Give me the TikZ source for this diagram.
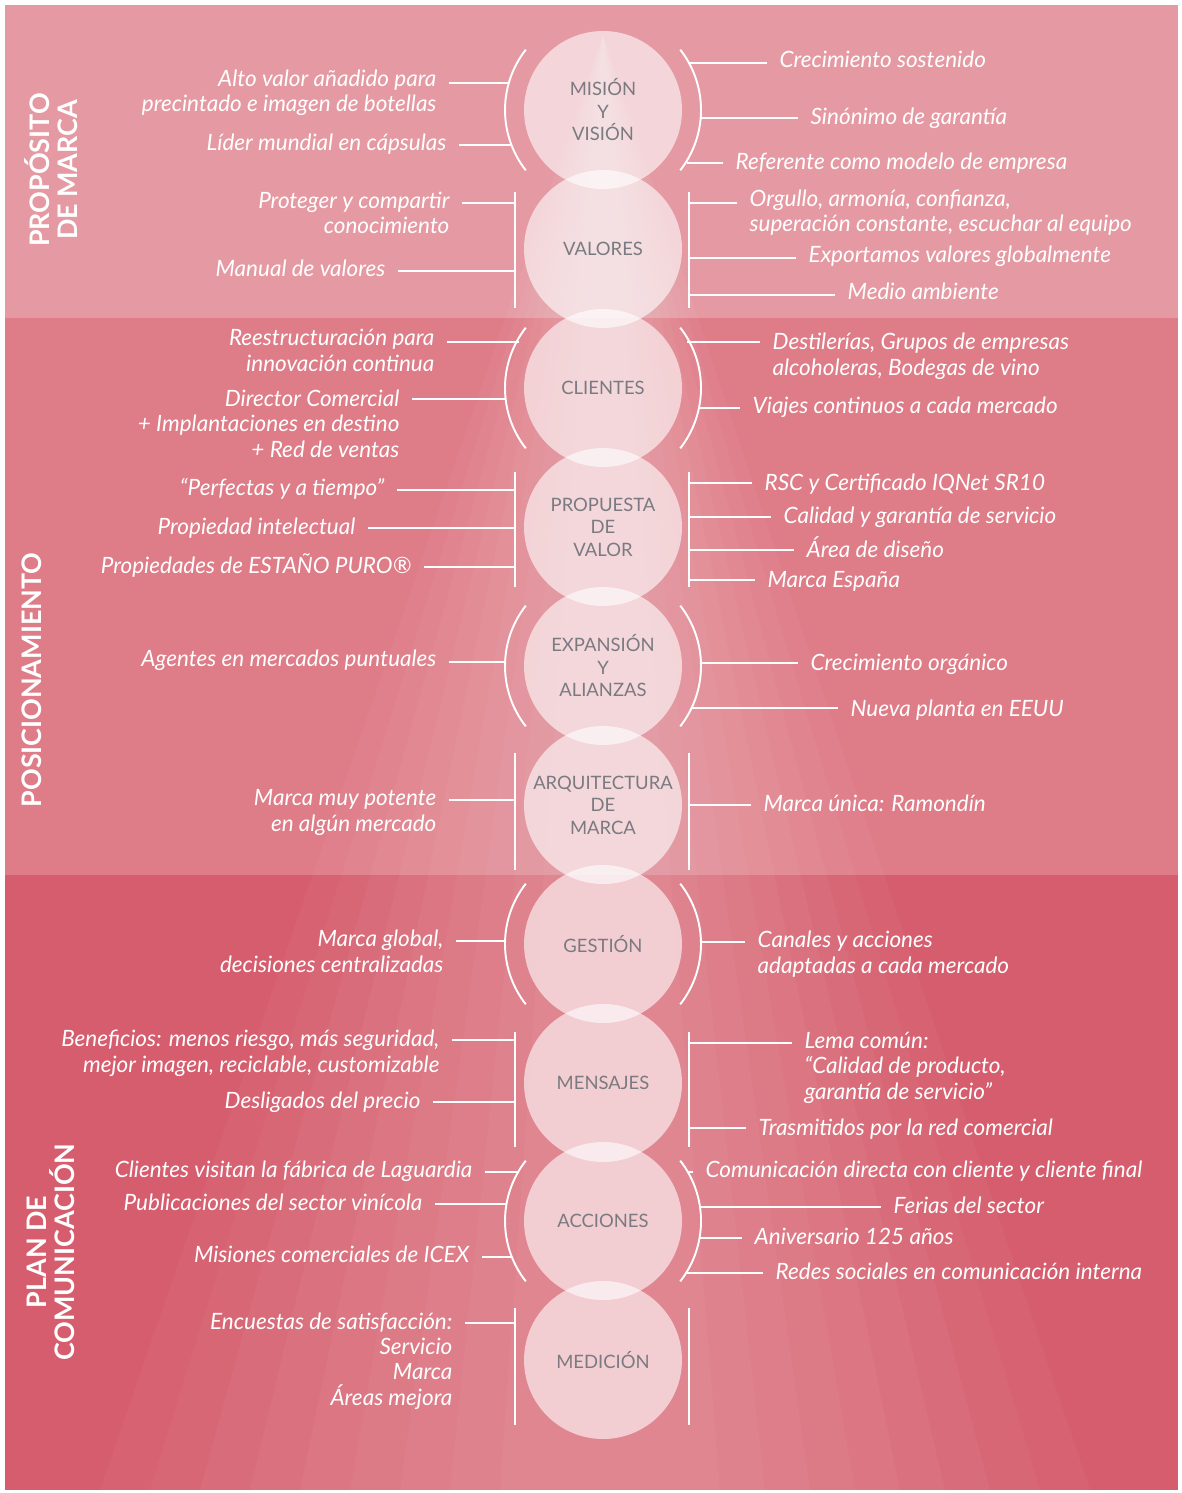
\documentclass[tikz,border=0pt]{standalone}
\usepackage{fontspec}
\setmainfont{Lato}
\usetikzlibrary{positioning,calc}
\definecolor{BandTop}{HTML}{E59AA3}
\definecolor{BandMid}{HTML}{DE7C88}
\definecolor{BandLow}{HTML}{D65D6D}
\definecolor{Slate}{HTML}{7A7A80}
\tikzset{
  cone/.style={fill=white,draw=none,opacity=.035},
  bubble/.style={circle,fill=white,fill opacity=.6,text opacity=1,draw=none,minimum size=3.16cm,inner sep=0pt,align=center,text=Slate,font=\fontsize{10.5}{12.8}\selectfont},
  tick/.style={draw=white,line width=1.1pt},
  lft/.style={anchor=base east,align=right,text=white,font=\fontsize{12.8}{14.3}\selectfont\itshape,inner xsep=7pt,inner ysep=0pt},
  rgt/.style={lft,anchor=base west,align=left},
  side/.style={rotate=90,align=center,text=white,font=\fontsize{15.3}{16.3}\selectfont\bfseries}
}
\begin{document}
\begin{tikzpicture}[x=0.02cm,y=-0.02cm]
  \useasboundingbox (0,0) rectangle (1181,1493);
  \fill[white] (0,0) rectangle (1181,1493);
  % bands
  \fill[BandTop] (5,5) rectangle (1178,318);
  \fill[BandMid] (5,318) rectangle (1178,875);
  \fill[BandLow] (5,875) rectangle (1178,1490);
  % light cone
  \fill[cone] (603,35) -- (100,1490) -- (1090,1490) -- cycle;
  \fill[cone] (603,35) -- (150,1490) -- (1040,1490) -- cycle;
  \fill[cone] (603,35) -- (200,1490) -- (990,1490) -- cycle;
  \fill[cone] (603,35) -- (250,1490) -- (945,1490) -- cycle;
  \fill[cone] (603,35) -- (300,1490) -- (900,1490) -- cycle;
  \fill[cone] (603,35) -- (350,1490) -- (855,1490) -- cycle;
  \fill[cone] (603,35) -- (400,1490) -- (810,1490) -- cycle;
  \fill[cone] (603,35) -- (450,1490) -- (765,1490) -- cycle;
  \fill[cone] (603,35) -- (500,1490) -- (720,1490) -- cycle;

  % side titles
  \node[side] (s1) at (51,170) {PROPÓSITO\\DE MARCA};
  \node[side] (s2) at (32,680) {POSICIONAMIENTO};
  \node[side] (s3) at (51,1252) {PLAN DE\\COMUNICACIÓN};

  % bubbles
  \node[bubble] (mis) at (603,110) {MISIÓN\\Y\\VISIÓN};
  \node[bubble] (val) at (603,249) {VALORES};
  \node[bubble] (cli) at (603,388) {CLIENTES};
  \node[bubble] (pro) at (603,527) {PROPUESTA\\DE\\VALOR};
  \node[bubble] (exp) at (603,666) {EXPANSIÓN\\Y\\ALIANZAS};
  \node[bubble] (arq) at (603,805) {ARQUITECTURA\\DE\\MARCA};
  \node[bubble] (ges) at (603,944) {GESTIÓN};
  \node[bubble] (men) at (603,1083) {MENSAJES};
  \node[bubble] (acc) at (603,1221) {ACCIONES};
  \node[bubble] (med) at (603,1360) {MEDICIÓN};

  % round brackets
  \draw[tick] ([shift={(142:98)}]mis.center) arc[start angle=142,end angle=218,radius=98];
  \draw[tick] ([shift={(-38:98)}]mis.center) arc[start angle=-38,end angle=38,radius=98];
  \draw[tick] ([shift={(142:98)}]cli.center) arc[start angle=142,end angle=218,radius=98];
  \draw[tick] ([shift={(-38:98)}]cli.center) arc[start angle=-38,end angle=38,radius=98];
  \draw[tick] ([shift={(142:98)}]exp.center) arc[start angle=142,end angle=218,radius=98];
  \draw[tick] ([shift={(-38:98)}]exp.center) arc[start angle=-38,end angle=38,radius=98];
  \draw[tick] ([shift={(142:98)}]ges.center) arc[start angle=142,end angle=218,radius=98];
  \draw[tick] ([shift={(-38:98)}]ges.center) arc[start angle=-38,end angle=38,radius=98];
  \draw[tick] ([shift={(142:98)}]acc.center) arc[start angle=142,end angle=218,radius=98];
  \draw[tick] ([shift={(-38:98)}]acc.center) arc[start angle=-38,end angle=38,radius=98];

  % straight brackets
  \draw[tick] ($(val)+(-88,-57)$) -- ($(val)+(-88,59)$);
  \draw[tick] ($(val)+(86,-57)$) -- ($(val)+(86,59)$);
  \draw[tick] ($(pro)+(-88,-55)$) -- ($(pro)+(-88,60)$);
  \draw[tick] ($(pro)+(86,-55)$) -- ($(pro)+(86,60)$);
  \draw[tick] ($(arq)+(-88,-52)$) -- ($(arq)+(-88,65)$);
  \draw[tick] ($(arq)+(86,-52)$) -- ($(arq)+(86,65)$);
  \draw[tick] ($(men)+(-88,-51)$) -- ($(men)+(-88,64)$);
  \draw[tick] ($(men)+(86,-51)$) -- ($(men)+(86,64)$);
  \draw[tick] ($(med)+(-88,-52)$) -- ($(med)+(-88,65)$);
  \draw[tick] ($(med)+(86,-52)$) -- ($(med)+(86,65)$);

  % left labels (anchored on their last line)
  \node[lft] (p1) at (449,112) {Alto valor añadido para\\precintado e imagen de botellas};
  \node[lft] (p2) at (459,151) {Líder mundial en cápsulas};
  \node[lft] (p3) at (462,234) {Proteger y compartir\\conocimiento};
  \node[lft] (p4) at (398,276) {Manual de valores};
  \node[lft] (p5) at (447,371) {Reestructuración para\\innovación continua};
  \node[lft] (p6) at (412,457) {Director Comercial\\+ Implantaciones en destino\\+ Red de ventas};
  \node[lft] (p7) at (397,495) {“Perfectas y a tiempo”};
  \node[lft] (p8) at (368,534) {Propiedad intelectual};
  \node[lft] (p9) at (424,573) {Propiedades de ESTAÑO PURO®};
  \node[lft] (p10) at (449,666) {Agentes en mercados puntuales};
  \node[lft] (p11) at (449,831) {Marca muy potente\\en algún mercado};
  \node[lft] (p12) at (456,972) {Marca global,\\decisiones centralizadas};
  \node[lft] (p13) at (452,1072) {Beneficios: menos riesgo, más seguridad,\\mejor imagen, reciclable, customizable};
  \node[lft] (p14) at (433,1108) {Desligados del precio};
  \node[lft] (p15) at (485,1177) {Clientes visitan la fábrica de Laguardia};
  \node[lft] (p16) at (435,1210) {Publicaciones del sector vinícola};
  \node[lft] (p17) at (482,1262) {Misiones comerciales de ICEX};
  \node[lft] (p18) at (465,1405) {Encuestas de satisfacción:\\Servicio\\Marca\\Áreas mejora};

  % right labels
  \node[rgt] (q1) at (767,68) {Crecimiento sostenido};
  \node[rgt] (q2) at (798,125) {Sinónimo de garantía};
  \node[rgt] (q3) at (723,170) {Referente como modelo de empresa};
  \node[rgt] (q4) at (737,232) {Orgullo, armonía, confianza,\\superación constante, escuchar al equipo};
  \node[rgt] (q5) at (796,263) {Exportamos valores globalmente};
  \node[rgt] (q6) at (835,299) {Medio ambiente};
  \node[rgt] (q7) at (760,375) {Destilerías, Grupos de empresas\\alcoholeras, Bodegas de vino};
  \node[rgt] (q8) at (740,413) {Viajes continuos a cada mercado};
  \node[rgt] (q9) at (752,490) {RSC y Certificado IQNet SR10};
  \node[rgt] (q10) at (771,523) {Calidad y garantía de servicio};
  \node[rgt] (q11) at (794,557) {Área de diseño};
  \node[rgt] (q12) at (755,587) {Marca España};
  \node[rgt] (q13) at (798,670) {Crecimiento orgánico};
  \node[rgt] (q14) at (838,716) {Nueva planta en EEUU};
  \node[rgt] (q15) at (751,811) {Marca única: Ramondín};
  \node[rgt] (q16) at (745,973) {Canales y acciones\\adaptadas a cada mercado};
  \node[rgt] (q17) at (792,1099) {Lema común:\\“Calidad de producto,\\garantía de servicio”};
  \node[rgt] (q18) at (746,1135) {Trasmitidos por la red comercial};
  \node[rgt] (q19) at (693,1177) {Comunicación directa con cliente y cliente final};
  \node[rgt] (q20) at (881,1213) {Ferias del sector};
  \node[rgt] (q21) at (742,1244) {Aniversario 125 años};
  \node[rgt] (q22) at (763,1279) {Redes sociales en comunicación interna};

  % attachment points on the brackets
  \coordinate (a1) at (509,83);
  \coordinate (a2) at (511,145);
  \coordinate (a3) at (515,203);
  \coordinate (a4) at (515,271);
  \coordinate (a5) at (519,342);
  \coordinate (a6) at (505,399);
  \coordinate (a7) at (515,490);
  \coordinate (a8) at (515,528);
  \coordinate (a9) at (515,567);
  \coordinate (a10) at (505,662);
  \coordinate (a11) at (515,800);
  \coordinate (a12) at (505,941);
  \coordinate (a13) at (515,1040);
  \coordinate (a14) at (515,1102);
  \coordinate (a15) at (518,1172);
  \coordinate (a16) at (506,1204);
  \coordinate (a17) at (512,1257);
  \coordinate (a18) at (515,1323);
  \coordinate (b1) at (688,63);
  \coordinate (b2) at (701,118);
  \coordinate (b3) at (687,163);
  \coordinate (b4) at (689,203);
  \coordinate (b5) at (689,258);
  \coordinate (b6) at (689,295);
  \coordinate (b7) at (687,342);
  \coordinate (b8) at (700,408);
  \coordinate (b9) at (689,483);
  \coordinate (b10) at (689,517);
  \coordinate (b11) at (689,550);
  \coordinate (b12) at (689,580);
  \coordinate (b13) at (701,663);
  \coordinate (b14) at (691,708);
  \coordinate (b15) at (689,805);
  \coordinate (b16) at (701,942);
  \coordinate (b17) at (689,1043);
  \coordinate (b18) at (689,1128);
  \coordinate (b19) at (688,1172);
  \coordinate (b20) at (700,1207);
  \coordinate (b21) at (699,1238);
  \coordinate (b22) at (685,1273);

  % connectors
  \draw[tick] (a1) -- (a1 -| p1.east);
  \draw[tick] (a2) -- (a2 -| p2.east);
  \draw[tick] (a3) -- (a3 -| p3.east);
  \draw[tick] (a4) -- (a4 -| p4.east);
  \draw[tick] (a5) -- (a5 -| p5.east);
  \draw[tick] (a6) -- (a6 -| p6.east);
  \draw[tick] (a7) -- (a7 -| p7.east);
  \draw[tick] (a8) -- (a8 -| p8.east);
  \draw[tick] (a9) -- (a9 -| p9.east);
  \draw[tick] (a10) -- (a10 -| p10.east);
  \draw[tick] (a11) -- (a11 -| p11.east);
  \draw[tick] (a12) -- (a12 -| p12.east);
  \draw[tick] (a13) -- (a13 -| p13.east);
  \draw[tick] (a14) -- (a14 -| p14.east);
  \draw[tick] (a15) -- (a15 -| p15.east);
  \draw[tick] (a16) -- (a16 -| p16.east);
  \draw[tick] (a17) -- (a17 -| p17.east);
  \draw[tick] (a18) -- (a18 -| p18.east);
  \draw[tick] (b1) -- (b1 -| q1.west);
  \draw[tick] (b2) -- (b2 -| q2.west);
  \draw[tick] (b3) -- (b3 -| q3.west);
  \draw[tick] (b4) -- (b4 -| q4.west);
  \draw[tick] (b5) -- (b5 -| q5.west);
  \draw[tick] (b6) -- (b6 -| q6.west);
  \draw[tick] (b7) -- (b7 -| q7.west);
  \draw[tick] (b8) -- (b8 -| q8.west);
  \draw[tick] (b9) -- (b9 -| q9.west);
  \draw[tick] (b10) -- (b10 -| q10.west);
  \draw[tick] (b11) -- (b11 -| q11.west);
  \draw[tick] (b12) -- (b12 -| q12.west);
  \draw[tick] (b13) -- (b13 -| q13.west);
  \draw[tick] (b14) -- (b14 -| q14.west);
  \draw[tick] (b15) -- (b15 -| q15.west);
  \draw[tick] (b16) -- (b16 -| q16.west);
  \draw[tick] (b17) -- (b17 -| q17.west);
  \draw[tick] (b18) -- (b18 -| q18.west);
  \draw[tick] (b19) -- (b19 -| q19.west);
  \draw[tick] (b20) -- (b20 -| q20.west);
  \draw[tick] (b21) -- (b21 -| q21.west);
  \draw[tick] (b22) -- (b22 -| q22.west);
\end{tikzpicture}
\end{document}
